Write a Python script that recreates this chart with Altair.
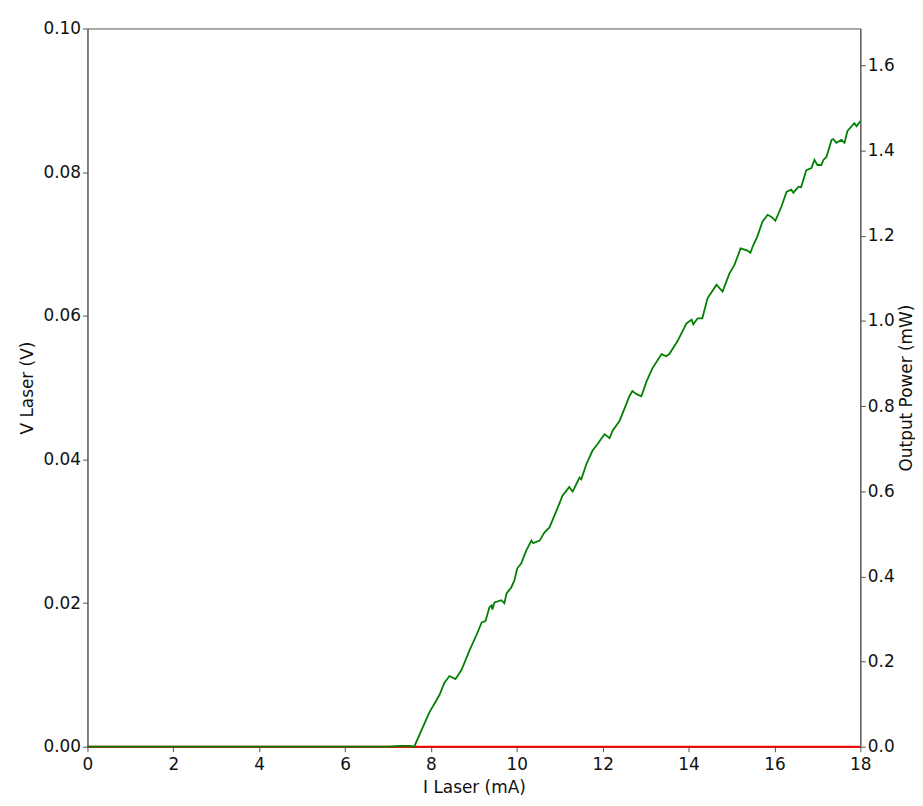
import altair as alt
import pandas as pd

# Red trace: laser voltage (V) vs current (mA)
v_current = [0.0, 18.0]
v_laser = [0.0, 0.0]

# Green trace: output power (mW) vs current (mA)
p_current = [0.0, 7.0, 7.3, 7.5, 7.61, 7.96, 8.2, 8.31, 8.43, 8.57, 8.71, 8.9, 9.08, 9.18, 9.27,
             9.36, 9.41, 9.43, 9.48, 9.64, 9.71, 9.76, 9.87, 9.94, 10.01, 10.1, 10.22, 10.34,
             10.38, 10.53, 10.64, 10.76, 10.95, 11.06, 11.22, 11.3, 11.46, 11.5, 11.62, 11.76,
             11.88, 12.04, 12.16, 12.23, 12.39, 12.53, 12.62, 12.69, 12.79, 12.9, 13.02, 13.16,
             13.37, 13.48, 13.55, 13.74, 13.95, 14.07, 14.11, 14.21, 14.32, 14.44, 14.65, 14.79,
             14.95, 15.07, 15.21, 15.37, 15.44, 15.49, 15.6, 15.72, 15.84, 15.93, 16.02, 16.16,
             16.28, 16.39, 16.44, 16.56, 16.62, 16.74, 16.86, 16.93, 17.0, 17.09, 17.14, 17.21,
             17.33, 17.37, 17.44, 17.56, 17.63, 17.7, 17.86, 17.91, 18.0]
p_power = [0.0, 0.0, 0.002, 0.002, 0.0, 0.08, 0.122, 0.15, 0.166, 0.159, 0.18, 0.227, 0.267, 0.292,
           0.295, 0.327, 0.332, 0.322, 0.339, 0.344, 0.337, 0.36, 0.374, 0.39, 0.419, 0.43, 0.461,
           0.484, 0.478, 0.484, 0.503, 0.515, 0.561, 0.589, 0.61, 0.599, 0.632, 0.628, 0.664, 0.695,
           0.711, 0.734, 0.725, 0.742, 0.765, 0.8, 0.823, 0.835, 0.828, 0.823, 0.858, 0.889, 0.922,
           0.917, 0.922, 0.952, 0.994, 1.003, 0.992, 1.006, 1.006, 1.053, 1.085, 1.069, 1.111,
           1.132, 1.17, 1.165, 1.16, 1.174, 1.198, 1.233, 1.249, 1.244, 1.235, 1.268, 1.303, 1.308,
           1.301, 1.315, 1.314, 1.354, 1.359, 1.378, 1.366, 1.366, 1.378, 1.385, 1.425, 1.427,
           1.418, 1.425, 1.418, 1.446, 1.464, 1.457, 1.469]

x_ticks = [0, 2, 4, 6, 8, 10, 12, 14, 16, 18]
v_ticks = [0.0, 0.02, 0.04, 0.06, 0.08, 0.10]
p_ticks = [0.0, 0.2, 0.4, 0.6, 0.8, 1.0, 1.2, 1.4, 1.6]

df_v = pd.DataFrame({"I": v_current, "V": v_laser})
df_p = pd.DataFrame({"I": p_current, "P": p_power})

FONT = "DejaVu Sans"
axis_common = dict(grid=False, domainColor="#555", tickColor="#555", tickSize=5,
                   labelFlush=False, labelOverlap=False,
                   labelFont=FONT, labelFontSize=17, labelColor="#111",
                   titleFont=FONT, titleFontSize=17, titleFontWeight="normal", titleColor="#111")

x_enc = alt.X("I:Q", scale=alt.Scale(domain=[0, 18], nice=False, zero=False),
              axis=alt.Axis(title="I Laser (mA)", values=x_ticks, format="d", titlePadding=7,
                            labelPadding=5, **axis_common))

red = alt.Chart(df_v).mark_line(color="#ff0000", strokeWidth=2).encode(
    x=x_enc,
    y=alt.Y("V:Q", scale=alt.Scale(domain=[0, 0.1], nice=False),
            axis=alt.Axis(title="V Laser (V)", values=v_ticks, format=".2f", orient="left",
                          titlePadding=6, labelPadding=2, **axis_common)),
)

green = alt.Chart(df_p).mark_line(color="#008000", strokeWidth=1.8).encode(
    x=x_enc,
    y=alt.Y("P:Q", scale=alt.Scale(domain=[0, 1.6866], nice=False),
            axis=alt.Axis(title="Output Power (mW)", values=p_ticks, format=".1f", orient="right",
                          titlePadding=4, titleAngle=270, titleBaseline="top", labelPadding=2,
                          **axis_common)),
)

chart = alt.layer(red, green).resolve_scale(y="independent").properties(
    width=913, height=790,
    autosize=alt.AutoSizeParams(type="fit", contains="padding"),
    padding={"left": 11, "top": 9, "right": 0, "bottom": 0},
    background="white",
).configure_view(stroke="#555", strokeWidth=1)

chart.save("out.html", embed_options={"renderer": "svg", "actions": False})
